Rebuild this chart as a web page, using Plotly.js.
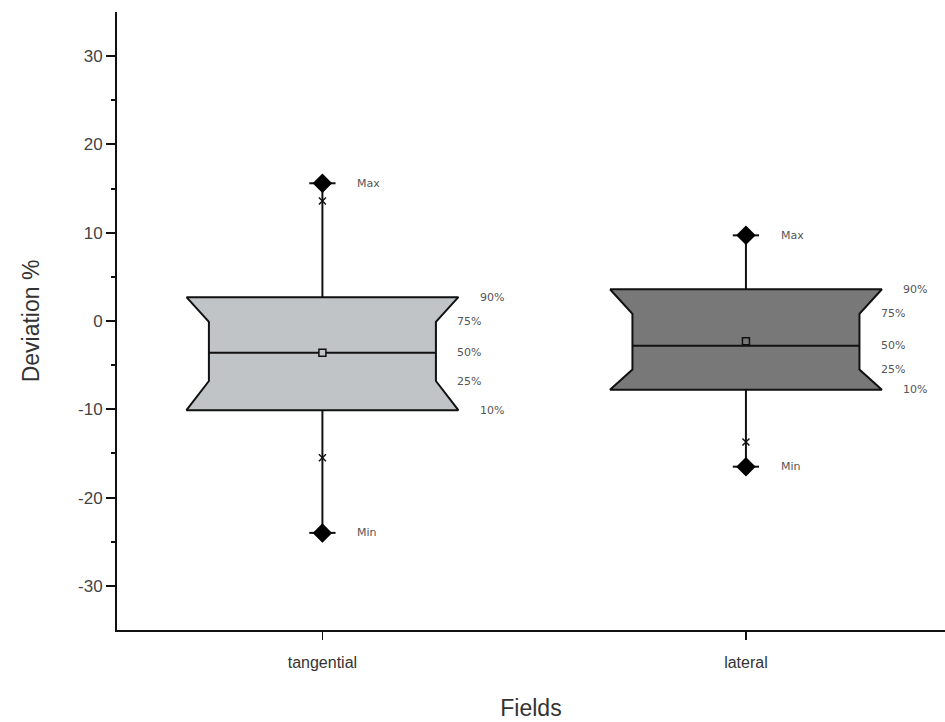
<!DOCTYPE html>
<html>
<head>
<meta charset="utf-8">
<script src="https://cdn.plot.ly/plotly-3.0.1.min.js"></script>
<style>html,body{margin:0;padding:0;background:#fff;}#chart{width:945px;height:722px;}</style>
</head>
<body>
<div id="chart"></div>
<script>
// ---- data ----
var categories = ['tangential', 'lateral'];
var p90  = [2.7, 3.6];
var p75  = [-0.1, 0.8];
var p50  = [-3.6, -2.8];
var p25  = [-6.8, -5.5];
var p10  = [-10.1, -7.8];
var meanV = [-3.6, -2.3];
var maxV = [15.6, 9.7];
var minV = [-24.0, -16.5];
var p99  = [13.6, 9.7];
var p1   = [-15.5, -13.7];
var fillColors = ['#c0c4c6', '#787878'];
var pctLabels = ['90%', '75%', '50%', '25%', '10%'];
var yTickVals = [-30, -20, -10, 0, 10, 20, 30];
var yTickText = ['-30', '-20', '-10', '0', '10', '20', '30'];

// ---- styles / geometry ----
var W = 0.321, w = 0.268, cap = 0.031;
var traces = [];
var annotations = [];
function lab() { return {family: 'DejaVu Sans, sans-serif', size: 11, color: '#555'}; }

categories.forEach(function (c, i) {
  var xc = i;
  traces.push({
    type: 'scatter', mode: 'lines', fill: 'toself', fillcolor: fillColors[i],
    line: {color: '#111', width: 2},
    x: [xc - W, xc + W, xc + w, xc + w, xc + W, xc - W, xc - w, xc - w, xc - W],
    y: [p90[i], p90[i], p75[i], p25[i], p10[i], p10[i], p25[i], p75[i], p90[i]],
    hoverinfo: 'skip', showlegend: false
  });
  traces.push({type: 'scatter', mode: 'lines', x: [xc - w, xc + w], y: [p50[i], p50[i]],
    line: {color: '#111', width: 2}, hoverinfo: 'skip', showlegend: false});
  traces.push({type: 'scatter', mode: 'lines', x: [xc, xc, null, xc, xc],
    y: [p90[i], maxV[i], null, p10[i], minV[i]],
    line: {color: '#111', width: 2}, hoverinfo: 'skip', showlegend: false});
  traces.push({type: 'scatter', mode: 'lines', x: [xc - cap, xc + cap, null, xc - cap, xc + cap],
    y: [maxV[i], maxV[i], null, minV[i], minV[i]],
    line: {color: '#111', width: 2}, hoverinfo: 'skip', showlegend: false});
  traces.push({type: 'scatter', mode: 'markers', x: [xc, xc], y: [p99[i], p1[i]],
    marker: {symbol: 'x-thin', size: 7, line: {color: '#111', width: 1.5}},
    hoverinfo: 'skip', showlegend: false});
  traces.push({type: 'scatter', mode: 'markers', x: [xc, xc], y: [maxV[i], minV[i]],
    marker: {symbol: 'diamond', size: 15, color: '#000'},
    hoverinfo: 'skip', showlegend: false});
  traces.push({type: 'scatter', mode: 'markers', x: [xc], y: [meanV[i]],
    marker: {symbol: 'square', size: 7, color: fillColors[i], line: {color: '#111', width: 1.5}},
    hoverinfo: 'skip', showlegend: false});

  annotations.push({x: xc + 0.078, y: maxV[i], text: 'Max', showarrow: false, xanchor: 'left', yanchor: 'middle', font: lab()});
  annotations.push({x: xc + 0.078, y: minV[i], text: 'Min', showarrow: false, xanchor: 'left', yanchor: 'middle', font: lab()});
  var ys = [p90[i], p75[i], p50[i], p25[i], p10[i]];
  var xs = [0.367, 0.313, 0.313, 0.313, 0.367];
  pctLabels.forEach(function (t, k) {
    annotations.push({x: xc + xs[k], y: ys[k], text: t, showarrow: false, xanchor: 'left', yanchor: 'middle', font: lab()});
  });
});

var layout = {
  width: 945, height: 722,
  margin: {l: 117, r: 0, t: 12, b: 92},
  paper_bgcolor: '#fff', plot_bgcolor: '#fff',
  font: {family: 'Liberation Sans, Arial, sans-serif', color: '#333'},
  showlegend: false,
  xaxis: {
    range: [-0.485, 1.47], tickvals: [0, 1], ticktext: categories,
    showgrid: false, zeroline: false, showline: true, linecolor: '#111', linewidth: 2,
    ticks: 'outside', ticklen: 8, tickwidth: 1.5, tickcolor: '#111',
    ticklabelstandoff: 9,
    tickfont: {size: 16, color: '#333'},
    title: {text: 'Fields', font: {size: 23, color: '#333'}, standoff: 30},
    automargin: false, fixedrange: true
  },
  yaxis: {
    range: [-35, 35], tickvals: yTickVals, ticktext: yTickText,
    showgrid: false, zeroline: false, showline: true, linecolor: '#111', linewidth: 2,
    ticks: 'outside', ticklen: 9, tickwidth: 2, tickcolor: '#111',
    minor: {tickvals: [-25, -15, -5, 5, 15, 25], ticks: 'outside', ticklen: 4, tickwidth: 2, tickcolor: '#111', showgrid: false},
    tickfont: {size: 17, color: '#444'},
    title: {text: 'Deviation %', font: {size: 23, color: '#333'}, standoff: 32},
    automargin: false, fixedrange: true
  },
  annotations: annotations
};

Plotly.newPlot('chart', traces, layout, {displayModeBar: false, staticPlot: true});
</script>
</body>
</html>
